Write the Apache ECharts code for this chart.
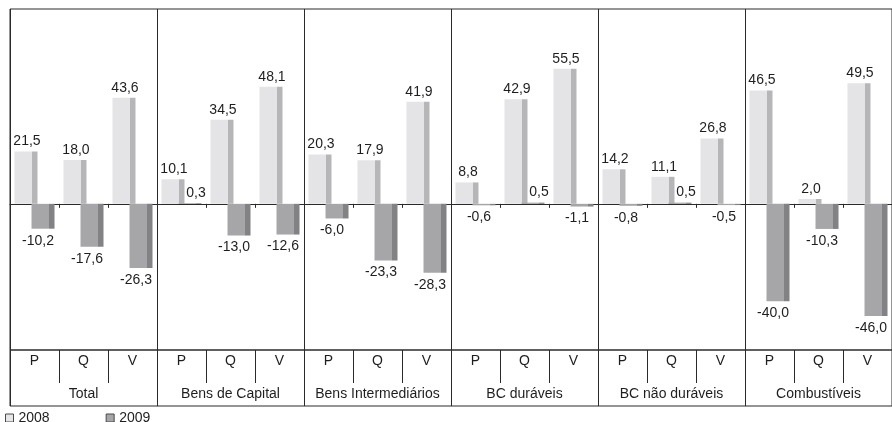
<!DOCTYPE html>
<html>
<head>
<meta charset="utf-8">
<script src="https://cdn.jsdelivr.net/npm/echarts@6/dist/echarts.min.js"></script>
<style>
  html, body { margin: 0; padding: 0; background: #fff; }
  #chart { width: 892px; height: 422px; }
</style>
</head>
<body>
<div id="chart"></div>
<script>
// Variação (%) de preço (P), quantum (Q) e valor (V) por categoria de uso
const groups = ['Total', 'Bens de Capital', 'Bens Intermediários', 'BC duráveis', 'BC não duráveis', 'Combustíveis'];
const measures = ['P', 'Q', 'V'];
const seriesNames = ['2008', '2009'];
const values2008 = [21.5, 18.0, 43.6, 10.1, 34.5, 48.1, 20.3, 17.9, 41.9, 8.8, 42.9, 55.5, 14.2, 11.1, 26.8, 46.5, 2.0, 49.5];
const values2009 = [-10.2, -17.6, -26.3, 0.3, -13.0, -12.6, -6.0, -23.3, -28.3, -0.6, 0.5, -1.1, -0.8, 0.5, -0.5, -40.0, -10.3, -46.0];

// One category per (group, measure) pair; the part after '|' is the visible label
const categories = [];
groups.forEach(g => measures.forEach(m => categories.push(g + '|' + m)));

const FONT = '"Liberation Sans", Arial, sans-serif';
const FS = 14;
const TEXT = '#1e1e1e';
const LINE = '#2a2a2a';

// Bars have a front face and a darker side face
function faceGradient(front, side) {
  return {
    type: 'linear', x: 0, y: 0, x2: 1, y2: 0,
    colorStops: [
      { offset: 0, color: front }, { offset: 0.74, color: front },
      { offset: 0.74, color: side }, { offset: 1, color: side }
    ]
  };
}
const fmt = v => v.toFixed(1).replace('.', ',');

function barData(values, posOffset, negOffset) {
  return values.map(v => ({
    value: v,
    label: v < 0
      ? { position: 'bottom', distance: 5, offset: negOffset }
      : { position: 'top', distance: 3, offset: posOffset }
  }));
}

const chart = echarts.init(document.getElementById('chart'), null, { renderer: 'canvas' });
chart.setOption({
  animation: false,
  backgroundColor: '#fff',
  textStyle: { fontFamily: FONT },
  grid: [
    { left: 10, top: 9, width: 888, height: 341, show: true, borderColor: LINE, borderWidth: 1 },
    { left: 10, top: 350, width: 888, height: 56, show: true, borderColor: LINE, borderWidth: 1 }
  ],
  xAxis: [
    { // axis line at zero with ticks between measures
      type: 'category', gridIndex: 0, data: categories, position: 'bottom',
      axisLine: { onZero: true, lineStyle: { color: LINE, width: 1 } },
      axisTick: { show: true, interval: 0, length: 4, lineStyle: { color: LINE } },
      axisLabel: { show: false }, splitLine: { show: false }
    },
    { // panel separators inside the plot
      type: 'category', gridIndex: 0, data: groups, position: 'top',
      axisLine: { show: false, onZero: false }, axisTick: { show: false }, axisLabel: { show: false },
      splitLine: { show: true, interval: 0, lineStyle: { color: LINE, width: 1 } }
    },
    { // P / Q / V row of the table
      type: 'category', gridIndex: 1, data: categories, position: 'top',
      axisLine: { show: false, onZero: false },
      axisTick: { show: true, inside: true, interval: 0, length: 33, lineStyle: { color: LINE } },
      axisLabel: {
        show: true, inside: true, interval: 0, margin: 4,
        formatter: v => v.split('|')[1], fontSize: FS, color: TEXT, fontFamily: FONT
      },
      splitLine: { show: false }
    },
    { // group names row of the table
      type: 'category', gridIndex: 1, data: groups, position: 'bottom',
      axisLine: { show: false, onZero: false }, axisTick: { show: false },
      axisLabel: { show: true, inside: true, interval: 0, margin: 5, fontSize: FS, color: TEXT, fontFamily: FONT },
      splitLine: { show: true, interval: 0, lineStyle: { color: LINE, width: 1 } }
    }
  ],
  yAxis: [
    {
      type: 'value', gridIndex: 0, min: -60, max: 80,
      axisLine: { show: false }, axisTick: { show: false }, axisLabel: { show: false }, splitLine: { show: false }
    },
    {
      type: 'value', gridIndex: 1, min: 0, max: 1,
      axisLine: { show: false }, axisTick: { show: false }, axisLabel: { show: false }, splitLine: { show: false }
    }
  ],
  legend: {
    left: 0, top: 406, icon: 'rect', itemWidth: 8, itemHeight: 8, itemGap: 56,
    textStyle: { fontSize: FS, color: TEXT, fontFamily: FONT },
    data: [
      { name: seriesNames[0], itemStyle: { color: '#e6e6e8', borderColor: '#4a4a4a', borderWidth: 1 } },
      { name: seriesNames[1], itemStyle: { color: '#a6a6a8', borderColor: '#4a4a4a', borderWidth: 1 } }
    ]
  },
  series: [
    {
      name: seriesNames[0], type: 'bar', xAxisIndex: 0, yAxisIndex: 0,
      barWidth: 23, barGap: '-26%',
      itemStyle: { color: faceGradient('#e4e4e6', '#b6b6b8') },
      label: { show: true, fontSize: FS, color: TEXT, fontFamily: FONT, formatter: p => fmt(p.value) },
      data: barData(values2008, [1, 0], [-5, 0])
    },
    {
      name: seriesNames[1], type: 'bar', xAxisIndex: 0, yAxisIndex: 0,
      barWidth: 23, barGap: '-26%',
      itemStyle: { color: faceGradient('#a6a6a8', '#828284') },
      label: { show: true, fontSize: FS, color: TEXT, fontFamily: FONT, formatter: p => fmt(p.value) },
      data: barData(values2009, [6, 0], [-5, 0])
    }
  ]
});
</script>
</body>
</html>
